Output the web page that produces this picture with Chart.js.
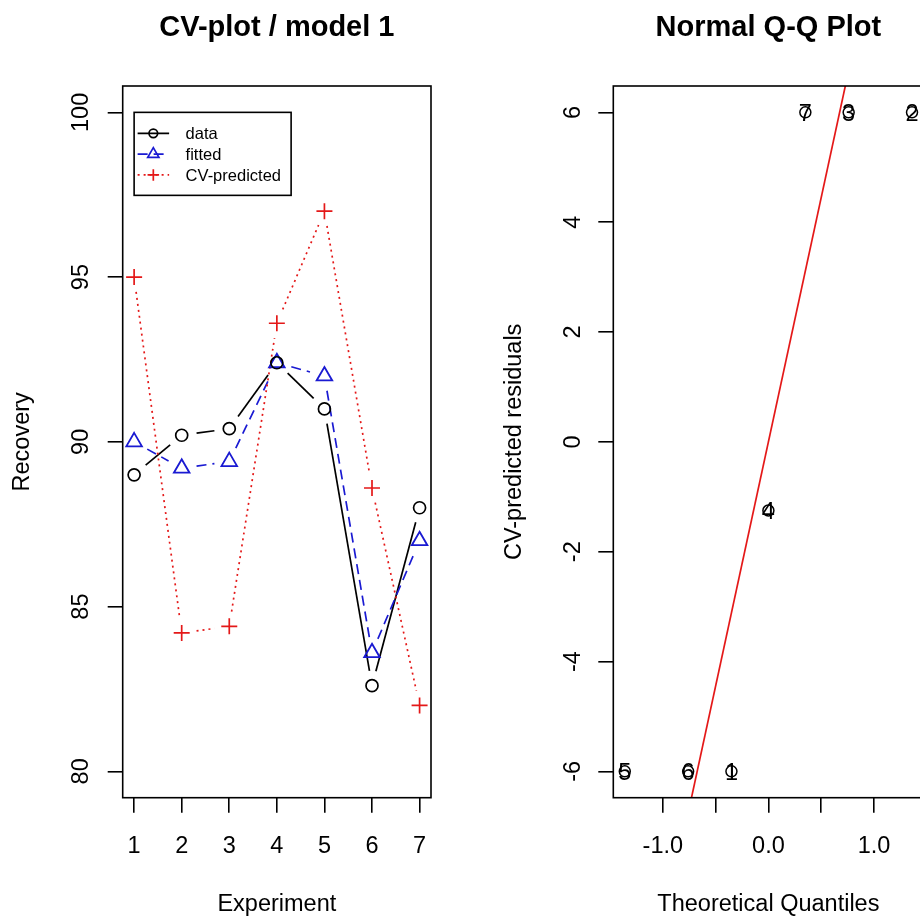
<!DOCTYPE html>
<html>
<head>
<meta charset="utf-8">
<title>CV-plot / model 1</title>
<script src="https://cdn.jsdelivr.net/npm/chart.js@4.4.1/dist/chart.umd.min.js"></script>
<style>
  html, body { margin: 0; padding: 0; background: #fff; width: 920px; height: 919px; overflow: hidden; }
  .panel { position: absolute; top: 0; }
  #left { left: 0; }
  #right { left: 460px; }
  canvas { display: block; }
</style>
</head>
<body>
<div class="panel" id="left"><canvas id="cvChart" width="460" height="919"></canvas></div>
<div class="panel" id="right"><canvas id="qqChart" width="520" height="919"></canvas></div>
<script>
/* ---------------- data ---------------- */
const experiments     = [1, 2, 3, 4, 5, 6, 7];
const recoveryData    = [89.0, 90.2, 90.4, 92.4, 91.0, 82.6, 88.0];
const recoveryFitted  = [90.0, 89.2, 89.4, 92.4, 92.0, 83.6, 87.0];
const recoveryCV      = [95.0, 84.2, 84.4, 93.6, 97.0, 88.6, 82.0];
const recoveryLim     = [80, 100];
const recoveryTicks   = [80, 85, 90, 95, 100];
const experimentTicks = [1, 2, 3, 4, 5, 6, 7];

const qqLabels      = ['1', '2', '3', '4', '5', '6', '7'];
const qqTheoretical = [-0.35, 1.36, 0.76, 0.0, -1.36, -0.76, 0.35];
const qqResiduals   = [-6, 6, 6, -1.25, -6, -6, 6];
const qqXTicks      = [-1.0, -0.5, 0.0, 0.5, 1.0];
const qqYTicks      = [-6, -4, -2, 0, 2, 4, 6];

/* ---------------- style ---------------- */
const FONT = '"Liberation Sans", Arial, Helvetica, sans-serif';
const BASE = 23.5;           // axis / label text size
const LW   = 1.7;            // line width for marks
const BLUE = '#1a1ad2';
const RED  = '#e41818';

Chart.defaults.font.family = FONT;
Chart.defaults.color = '#000';

// R style 4% axis extension
function padRange(lo, hi) {
    const d = (hi - lo) * 0.04;
    return [lo - d, hi + d];
}

function toPoints(xs, ys) {
    return xs.map((x, i) => ({ x: x, y: ys[i] }));
}

// quantile type 7, as used for the Q-Q reference line
function quantile(arr, p) {
    const s = arr.slice().sort((a, b) => a - b);
    const h = (s.length - 1) * p;
    const lo = Math.floor(h);
    const hi = Math.min(lo + 1, s.length - 1);
    return s[lo] + (h - lo) * (s[hi] - s[lo]);
}

/* ---------------- plugins ---------------- */

// box round the plot region
const boxPlugin = {
    id: 'rbox',
    afterDatasetsDraw(chart) {
        const a = chart.chartArea;
        const ctx = chart.ctx;
        ctx.save();
        ctx.strokeStyle = '#000';
        ctx.lineWidth = 1.6;
        ctx.strokeRect(a.left, a.top, a.right - a.left, a.bottom - a.top);
        ctx.restore();
    }
};

// type = "b" lines: segments between points, leaving a gap round each point
const gapLinePlugin = {
    id: 'gapLines',
    beforeDatasetsDraw(chart) {
        const ctx = chart.ctx;
        chart.data.datasets.forEach((ds, i) => {
            if (!ds.gapLine) return;
            const pts = chart.getDatasetMeta(i).data;
            ctx.save();
            ctx.strokeStyle = ds.borderColor;
            ctx.lineWidth = ds.lineWidth;
            ctx.setLineDash(ds.borderDash || []);
            for (let j = 0; j < pts.length - 1; j++) {
                const p0 = pts[j], p1 = pts[j + 1];
                const dx = p1.x - p0.x, dy = p1.y - p0.y;
                const d = Math.sqrt(dx * dx + dy * dy);
                if (d <= 2 * ds.gapLine) continue;
                const ux = dx / d, uy = dy / d;
                ctx.beginPath();
                ctx.moveTo(p0.x + ux * ds.gapLine, p0.y + uy * ds.gapLine);
                ctx.lineTo(p1.x - ux * ds.gapLine, p1.y - uy * ds.gapLine);
                ctx.stroke();
            }
            ctx.restore();
        });
    }
};

function drawMarker(ctx, style, x, y, r) {
    ctx.beginPath();
    if (style === 'circle') {
        ctx.arc(x, y, r, 0, Math.PI * 2);
    } else if (style === 'triangle') {
        ctx.moveTo(x, y - r);
        ctx.lineTo(x + r * 0.866, y + r / 2);
        ctx.lineTo(x - r * 0.866, y + r / 2);
        ctx.closePath();
    } else if (style === 'cross') {
        ctx.moveTo(x - r, y); ctx.lineTo(x + r, y);
        ctx.moveTo(x, y - r); ctx.lineTo(x, y + r);
    }
    ctx.stroke();
}

// legend box anchored at a data position (top-left corner)
const LEGEND_AT = { x: 1, y: 100 };
const rLegendPlugin = {
    id: 'rLegend',
    afterDatasetsDraw(chart) {
        if (!chart.options.plugins.rLegend) return;
        const ctx = chart.ctx;
        const x0 = chart.scales.x.getPixelForValue(LEGEND_AT.x);
        const y0 = chart.scales.y.getPixelForValue(LEGEND_AT.y);
        const w = 157, h = 83, rowH = 20.8;
        ctx.save();
        ctx.fillStyle = '#fff';
        ctx.fillRect(x0, y0, w, h);
        ctx.strokeStyle = '#000';
        ctx.lineWidth = 1.6;
        ctx.setLineDash([]);
        ctx.strokeRect(x0, y0, w, h);
        chart.data.datasets.forEach((ds, i) => {
            const y = y0 + 21 + i * rowH;
            ctx.strokeStyle = ds.borderColor;
            ctx.lineWidth = ds.lineWidth;
            ctx.setLineDash(ds.borderDash || []);
            ctx.beginPath();
            ctx.moveTo(x0 + 3.5, y);
            ctx.lineTo(x0 + 35, y);
            ctx.stroke();
            ctx.setLineDash([]);
            drawMarker(ctx, ds.pointStyle, x0 + 19.2, y, ds.pointRadius * 0.72);
            ctx.fillStyle = '#000';
            ctx.font = '16.5px ' + FONT;
            ctx.textAlign = 'left';
            ctx.textBaseline = 'alphabetic';
            ctx.fillText(ds.label, x0 + 51.5, y + 16.5 * 0.358);
        });
        ctx.restore();
    }
};

// text labels drawn on top of the Q-Q points
const pointLabelPlugin = {
    id: 'pointLabels',
    afterDatasetsDraw(chart) {
        const ctx = chart.ctx;
        chart.data.datasets.forEach((ds, i) => {
            if (!ds.pointLabels) return;
            const pts = chart.getDatasetMeta(i).data;
            ctx.save();
            ctx.fillStyle = '#000';
            ctx.font = BASE + 'px ' + FONT;
            ctx.textAlign = 'center';
            ctx.textBaseline = 'alphabetic';
            pts.forEach((p, j) => {
                ctx.fillText(ds.pointLabels[j], p.x, p.y + BASE * 0.358);
            });
            ctx.restore();
        });
    }
};

/* ---------------- shared axis pieces ---------------- */
function tickGrid() {
    return {
        drawOnChartArea: false,
        drawTicks: true,
        tickLength: 15,
        color: '#000',
        lineWidth: 1.6
    };
}

function fixedTicks(list) {
    return (scale) => { scale.ticks = list.map((v) => ({ value: v })); };
}

const TITLE_FONT = { family: FONT, size: 29, weight: 'bold', lineHeight: 1 };
const TITLE_PAD = { top: 13, bottom: 44 };

/* ---------------- left: CV-plot ---------------- */
const cvX = padRange(experiments[0], experiments[experiments.length - 1]);
const cvY = padRange(recoveryLim[0], recoveryLim[1]);

new Chart(document.getElementById('cvChart'), {
    type: 'scatter',
    data: {
        datasets: [
            {
                label: 'data',
                data: toPoints(experiments, recoveryData),
                borderColor: '#000',
                borderDash: [],
                lineWidth: LW,
                gapLine: 15,
                showLine: false,
                pointStyle: 'circle',
                pointRadius: 6,
                pointBorderWidth: LW,
                pointBackgroundColor: 'rgba(0,0,0,0)'
            },
            {
                label: 'fitted',
                data: toPoints(experiments, recoveryFitted),
                borderColor: BLUE,
                borderDash: [10, 6],
                lineWidth: LW,
                gapLine: 15,
                showLine: false,
                pointStyle: 'triangle',
                pointRadius: 9,
                pointBorderWidth: 1.8,
                pointBackgroundColor: 'rgba(0,0,0,0)'
            },
            {
                label: 'CV-predicted',
                data: toPoints(experiments, recoveryCV),
                borderColor: RED,
                borderDash: [2, 4],
                lineWidth: LW,
                gapLine: 15,
                showLine: false,
                pointStyle: 'cross',
                pointRadius: 8,
                pointBorderWidth: LW,
                pointBackgroundColor: 'rgba(0,0,0,0)'
            }
        ]
    },
    options: {
        responsive: false,
        animation: false,
        events: [],
        layout: { padding: { left: 0, right: 29, top: 0, bottom: 0 } },
        plugins: {
            legend: { display: false },
            tooltip: { enabled: false },
            rLegend: true,
            title: {
                display: true,
                fullSize: false,
                text: 'CV-plot / model 1',
                color: '#000',
                font: TITLE_FONT,
                padding: TITLE_PAD
            }
        },
        scales: {
            x: {
                type: 'linear',
                position: 'bottom',
                min: cvX[0],
                max: cvX[1],
                afterBuildTicks: fixedTicks(experimentTicks),
                afterFit: (s) => { s.height = 121.3; },
                grid: tickGrid(),
                border: { display: false },
                ticks: {
                    autoSkip: false,
                    maxRotation: 0,
                    padding: 19.5,
                    color: '#000',
                    font: { size: BASE },
                    callback: (v) => String(v)
                },
                title: {
                    display: true,
                    text: 'Experiment',
                    color: '#000',
                    font: { size: BASE, lineHeight: 1.2 },
                    padding: 0
                }
            },
            y: {
                type: 'linear',
                position: 'left',
                min: cvY[0],
                max: cvY[1],
                afterBuildTicks: fixedTicks(recoveryTicks),
                afterFit: (s) => { s.width = 122.7; },
                grid: tickGrid(),
                border: { display: false },
                ticks: {
                    autoSkip: false,
                    minRotation: 90,
                    maxRotation: 90,
                    crossAlign: 'center',
                    padding: 6.6,
                    color: '#000',
                    font: { size: BASE },
                    callback: (v) => String(v)
                },
                title: {
                    display: true,
                    text: 'Recovery',
                    color: '#000',
                    font: { size: BASE, lineHeight: 1.2 },
                    padding: { top: 8, bottom: 0 }
                }
            }
        }
    },
    plugins: [gapLinePlugin, boxPlugin, rLegendPlugin]
});

/* ---------------- right: Normal Q-Q plot ---------------- */
const qqX = padRange(Math.min(...qqTheoretical), Math.max(...qqTheoretical));
const qqY = padRange(Math.min(...qqResiduals), Math.max(...qqResiduals));

// qqline through the 1st and 3rd quartiles
const zq = 0.6744898;
const q1 = quantile(qqResiduals, 0.25);
const q3 = quantile(qqResiduals, 0.75);
const qqSlope = (q3 - q1) / (2 * zq);
const qqIntercept = q1 + zq * qqSlope;
const qqLineX = [qqX[0], qqX[1]];
const qqLineY = qqLineX.map((x) => qqIntercept + qqSlope * x);

new Chart(document.getElementById('qqChart'), {
    type: 'scatter',
    data: {
        datasets: [
            {
                label: 'residuals',
                data: toPoints(qqTheoretical, qqResiduals),
                pointLabels: qqLabels,
                borderColor: '#000',
                showLine: false,
                pointStyle: 'circle',
                pointRadius: 5.5,
                pointBorderWidth: 1.5,
                pointBackgroundColor: 'rgba(0,0,0,0)'
            },
            {
                label: 'qqline',
                data: toPoints(qqLineX, qqLineY),
                borderColor: RED,
                borderWidth: LW,
                showLine: true,
                pointRadius: 0,
                clip: 0
            }
        ]
    },
    options: {
        responsive: false,
        animation: false,
        events: [],
        layout: { padding: { left: 0, right: 56.5, top: 0, bottom: 0 } },
        plugins: {
            legend: { display: false },
            tooltip: { enabled: false },
            title: {
                display: true,
                fullSize: false,
                text: 'Normal Q-Q Plot',
                color: '#000',
                font: TITLE_FONT,
                padding: TITLE_PAD
            }
        },
        scales: {
            x: {
                type: 'linear',
                position: 'bottom',
                min: qqX[0],
                max: qqX[1],
                afterBuildTicks: fixedTicks(qqXTicks),
                afterFit: (s) => { s.height = 121.3; },
                grid: tickGrid(),
                border: { display: false },
                ticks: {
                    autoSkip: false,
                    maxRotation: 0,
                    padding: 19.5,
                    color: '#000',
                    font: { size: BASE },
                    callback: (v) => (Number.isInteger(v) ? v.toFixed(1) : '')
                },
                title: {
                    display: true,
                    text: 'Theoretical Quantiles',
                    color: '#000',
                    font: { size: BASE, lineHeight: 1.2 },
                    padding: 0
                }
            },
            y: {
                type: 'linear',
                position: 'left',
                min: qqY[0],
                max: qqY[1],
                afterBuildTicks: fixedTicks(qqYTicks),
                afterFit: (s) => { s.width = 153.3; },
                grid: tickGrid(),
                border: { display: false },
                ticks: {
                    autoSkip: false,
                    minRotation: 90,
                    maxRotation: 90,
                    crossAlign: 'center',
                    padding: 14.8,
                    color: '#000',
                    font: { size: BASE },
                    callback: (v) => String(v)
                },
                title: {
                    display: true,
                    text: 'CV-predicted residuals',
                    color: '#000',
                    font: { size: BASE, lineHeight: 1.2 },
                    padding: { top: 40, bottom: 0 }
                }
            }
        }
    },
    plugins: [boxPlugin, pointLabelPlugin]
});
</script>
</body>
</html>
